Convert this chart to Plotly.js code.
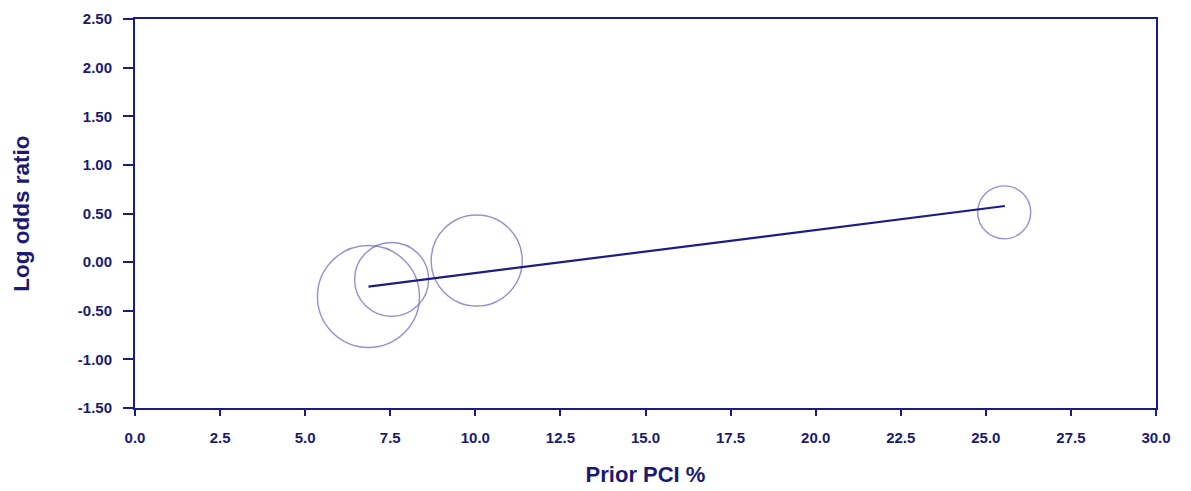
<!DOCTYPE html>
<html>
<head>
<meta charset="utf-8">
<script src="https://cdn.plot.ly/plotly-3.0.1.min.js"></script>
<style>html,body{margin:0;padding:0;background:#fff;}#chart{width:1191px;height:491px;}</style>
</head>
<body>
<div id="chart"></div>
<script>
// Study-level data (bubble size ~ study weight)
var priorPCI = [6.86, 7.54, 10.04, 25.54];
var logOddsRatio = [-0.354, -0.178, 0.017, 0.512];
var bubbleDiameter = [102, 74, 91, 53];

// Meta-regression fitted line
var fitX = [6.86, 25.56];
var fitY = [-0.252, 0.577];

var xTickVals = [0, 2.5, 5, 7.5, 10, 12.5, 15, 17.5, 20, 22.5, 25, 27.5, 30];
var xTickText = ["0.0","2.5","5.0","7.5","10.0","12.5","15.0","17.5","20.0","22.5","25.0","27.5","30.0"];
var yTickVals = [-1.5, -1, -0.5, 0, 0.5, 1, 1.5, 2, 2.5];
var yTickText = ["-1.50","-1.00","-0.50","0.00","0.50","1.00","1.50","2.00","2.50"];

var navy = "rgb(28,28,135)";
var textNavy = "rgb(26,26,115)";
var font = "Liberation Sans, Arial, sans-serif";

var traces = [
  {
    x: priorPCI, y: logOddsRatio, type: "scatter", mode: "markers",
    marker: {symbol: "circle-open", size: bubbleDiameter, sizemode: "diameter",
             color: "rgb(100,100,190)", line: {color: "rgb(100,100,190)", width: 1.4}},
    hoverinfo: "x+y", showlegend: false, cliponaxis: false
  },
  {
    x: fitX, y: fitY, type: "scatter", mode: "lines",
    line: {color: navy, width: 2.2}, showlegend: false
  }
];

var layout = {
  width: 1191, height: 491,
  margin: {l: 134.5, r: 35, t: 18.7, b: 82.7},
  paper_bgcolor: "#fff", plot_bgcolor: "#fff",
  font: {family: font, color: textNavy},
  showlegend: false,
  xaxis: {
    range: [0, 30], tickvals: xTickVals, ticktext: xTickText,
    showgrid: false, zeroline: false, showline: true, mirror: true,
    linecolor: navy, linewidth: 2, ticks: "outside", ticklen: 6, tickwidth: 2, tickcolor: navy,
    ticklabelstandoff: 9,
    tickfont: {family: font, size: 15, color: textNavy, weight: "bold"},
    title: {text: "<b>Prior PCI %</b>", font: {family: font, size: 22, color: textNavy}, standoff: 22}
  },
  yaxis: {
    range: [-1.5, 2.5], tickvals: yTickVals, ticktext: yTickText,
    showgrid: false, zeroline: false, showline: true, mirror: true,
    linecolor: navy, linewidth: 2, ticks: "outside", ticklen: 10, tickwidth: 2, tickcolor: navy,
    ticklabelstandoff: 8,
    tickfont: {family: font, size: 15, color: textNavy, weight: "bold"},
    title: {text: "<b>Log odds ratio</b>", font: {family: font, size: 22.5, color: textNavy}, standoff: 42}
  }
};

Plotly.newPlot("chart", traces, layout, {displayModeBar: false, staticPlot: true});
</script>
</body>
</html>
